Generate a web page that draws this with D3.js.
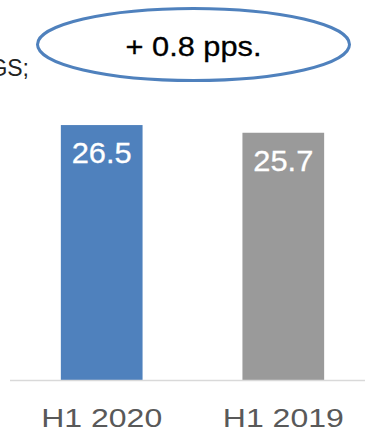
<!DOCTYPE html>
<html>
<head>
<meta charset="utf-8">
<script src="https://cdn.jsdelivr.net/npm/d3@7"></script>
<style>
  html, body { margin: 0; padding: 0; background: #fff; }
  svg { display: block; font-family: "Liberation Sans", Arial, sans-serif; }
</style>
</head>
<body>
<svg id="chart" width="365" height="432"></svg>
<script>
// Half-year comparison
const categories = ["H1 2020", "H1 2019"];
const values = [26.5, 25.7];
const barColors = ["#4f81bd", "#9a9a9a"];
const deltaLabel = "+ 0.8 pps.";
const leftFragment = "GS;";

const W = 365, H = 432;
const svg = d3.select("#chart");

// Scales: baseline at y=380, ~9.62 px per unit
const x = d3.scaleBand()
  .domain(categories)
  .range([10, 375])
  .paddingInner(0.55)
  .paddingOuter(0.28);

const y = d3.scaleLinear()
  .domain([0, 39.5])
  .range([380, 0]);

// Bars
svg.append("g").selectAll("rect")
  .data(categories)
  .join("rect")
  .attr("x", d => x(d))
  .attr("y", (d, i) => y(values[i]))
  .attr("width", x.bandwidth())
  .attr("height", (d, i) => y(0) - y(values[i]))
  .attr("fill", (d, i) => barColors[i]);

// Value labels inside the bars
svg.append("g").selectAll("text")
  .data(categories)
  .join("text")
  .attr("x", d => x(d) + x.bandwidth() / 2)
  .attr("y", (d, i) => y(values[i]) + 38)
  .attr("text-anchor", "middle")
  .attr("fill", "#fff")
  .attr("stroke", "#fff")
  .attr("stroke-width", 0.3)
  .attr("font-size", 30)
  .attr("textLength", 60)
  .attr("lengthAdjust", "spacingAndGlyphs")
  .text((d, i) => values[i].toFixed(1));

// Category axis
const axis = svg.append("g")
  .attr("transform", `translate(0,${y(0)})`)
  .call(d3.axisBottom(x).tickSize(0).tickPadding(0));
axis.select(".domain")
  .attr("d", `M10,0.5H${W}`)
  .attr("stroke", "#d9d9d9")
  .attr("stroke-width", 1.5);
axis.selectAll(".tick text")
  .attr("y", 47)
  .attr("dy", null)
  .attr("fill", "#595959")
  .attr("font-size", 26)
  .attr("textLength", 121)
  .attr("lengthAdjust", "spacingAndGlyphs")
  .attr("font-family", "'Liberation Sans', Arial, sans-serif");

// Callout ellipse with the change
const callout = svg.append("g");
callout.append("ellipse")
  .attr("cx", 193.5)
  .attr("cy", 44.5)
  .attr("rx", 156)
  .attr("ry", 36)
  .attr("fill", "#fff")
  .attr("stroke", "#4f81bd")
  .attr("stroke-width", 3);
callout.append("text")
  .attr("x", 193.5)
  .attr("y", 56)
  .attr("text-anchor", "middle")
  .attr("fill", "#000")
  .attr("stroke", "#000")
  .attr("stroke-width", 0.3)
  .attr("font-size", 27)
  .attr("textLength", 136)
  .attr("lengthAdjust", "spacingAndGlyphs")
  .text(deltaLabel);

// Trailing fragment of a heading on the left
svg.append("text")
  .attr("x", 29)
  .attr("y", 76)
  .attr("text-anchor", "end")
  .attr("fill", "#222")
  .attr("font-size", 23)
  .text(leftFragment);
</script>
</body>
</html>
